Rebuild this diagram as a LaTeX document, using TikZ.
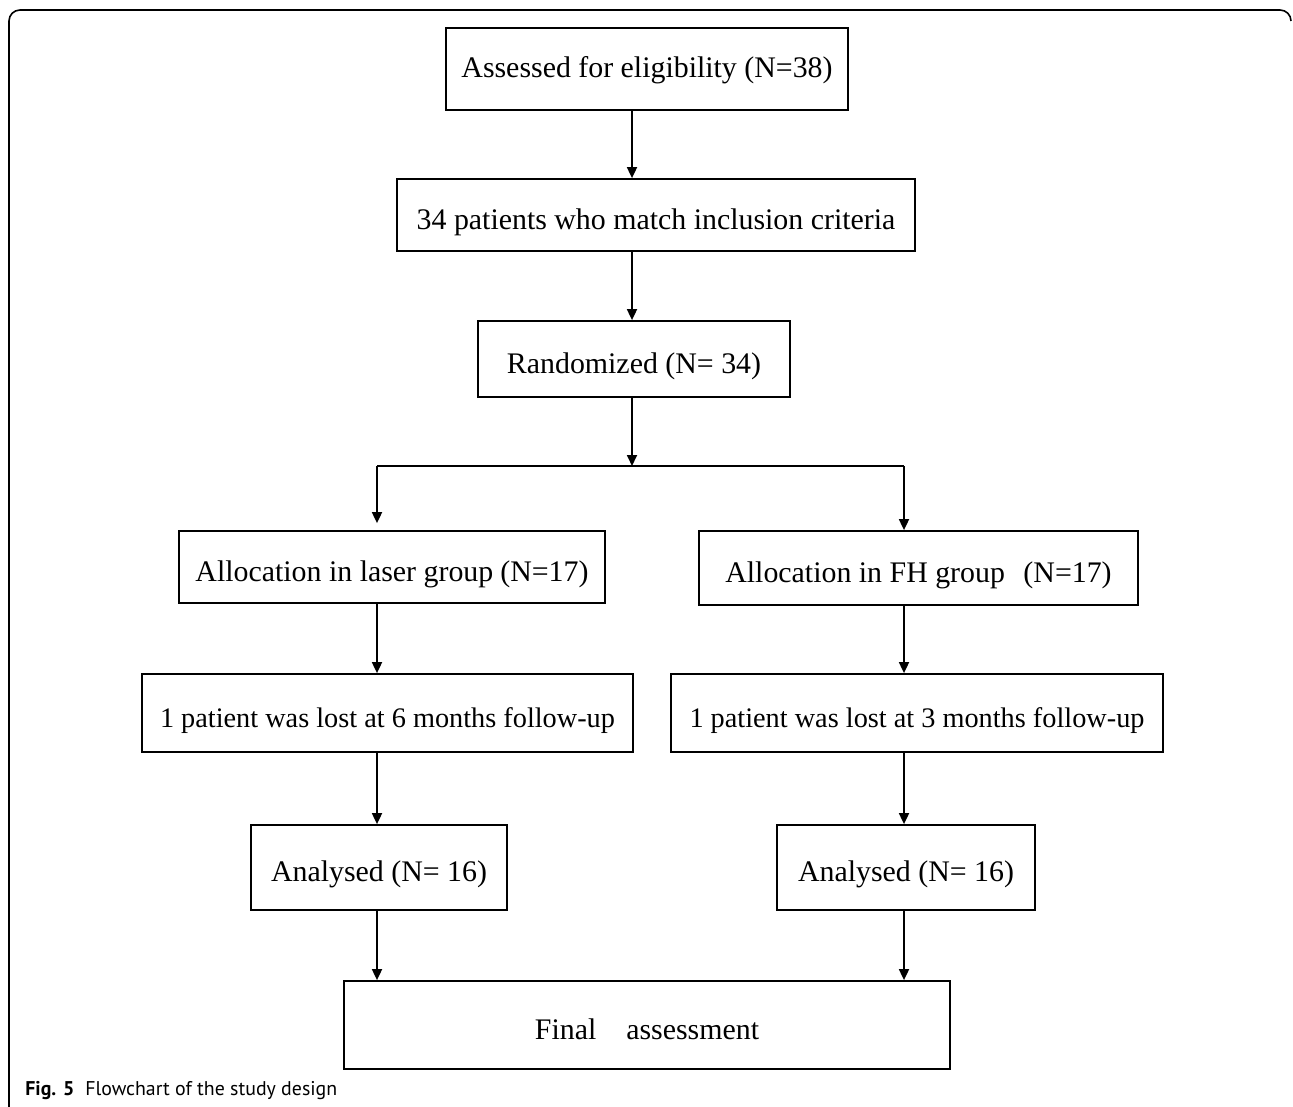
\documentclass[tikz,border=0pt]{standalone}
\usepackage{fontspec}
\setmainfont{Liberation Serif}
\newfontfamily\capfont{PT Sans}
\usepackage{tikz}
\usetikzlibrary{arrows.meta}
\tikzset{
  box/.style={
    rectangle, draw=black, line width=1pt, fill=white,
    align=center, inner sep=0pt, text height=0.66cm, text depth=0.1cm,
    font=\fontsize{17}{20}\selectfont
  },
  arrow/.style={-{Triangle[length=0.22cm,width=0.2cm]}, line width=1pt},
  link/.style={line width=1pt},
  frame/.style={line width=0.9pt},
  caption/.style={inner sep=0pt, font=\capfont\fontsize{11.3}{13}\selectfont}
}
\begin{document}
\begin{tikzpicture}
    \useasboundingbox (0,0) rectangle (25.86,-22.14);
    % Rahmen der Abbildung
    \draw[frame] (0.18,-22.14) -- (0.18,-0.42)
      arc[start angle=180, end angle=90, radius=0.22] -- (25.6,-0.2)
      arc[start angle=90, end angle=0, radius=0.22];

    % Spalten fuer die Pfeile
    \coordinate (cC) at (12.64,0);
    \coordinate (cL) at (7.54,0);
    \coordinate (cR) at (18.08,0);

    % Mittlere Spalte
    \node[box, text height=0.42cm, minimum width=8.04cm, minimum height=1.64cm] (b1) at (12.94,-1.38)
      {Assessed for eligibility (N=38)};
    \node[box, minimum width=10.36cm, minimum height=1.44cm] (b2) at (13.12,-4.30)
      {34 patients who match inclusion criteria};
    \node[box, minimum width=6.24cm, minimum height=1.52cm] (b3) at (12.68,-7.18)
      {Randomized (N= 34)};
    \coordinate (split) at (12.64,-9.32);

    % Laser-Gruppe
    \node[box, minimum width=8.52cm, minimum height=1.44cm] (l1) at (7.84,-11.34)
      {Allocation in laser group\hspace{0.14cm}(N=17)};
    \node[box, font=\fontsize{16.1}{19}\selectfont, minimum width=9.82cm, minimum height=1.56cm] (l2) at (7.75,-14.26)
      {1 patient was lost at 6 months follow-up};
    \node[box, minimum width=5.12cm, minimum height=1.70cm] (l3) at (7.58,-17.35)
      {Analysed (N= 16)};

    % FH-Gruppe
    \node[box, minimum width=8.78cm, minimum height=1.48cm] (r1) at (18.37,-11.36)
      {Allocation in FH group\hspace{0.37cm}(N=17)};
    \node[box, font=\fontsize{16.1}{19}\selectfont, minimum width=9.84cm, minimum height=1.56cm] (r2) at (18.34,-14.26)
      {1 patient was lost at 3 months follow-up};
    \node[box, minimum width=5.16cm, minimum height=1.70cm] (r3) at (18.12,-17.35)
      {Analysed (N= 16)};

    \node[box, minimum width=12.12cm, minimum height=1.76cm] (fin) at (12.94,-20.50)
      {Final\hspace{0.6cm}assessment};

    % Pfeile Mitte
    \foreach \a/\b in {b1/b2, b2/b3}{%
      \draw[arrow] (\a.south -| cC) -- (\b.north -| cC);}
    \draw[arrow] (b3.south -| cC) -- (split);
    \draw[link] (split -| cL) -- (split -| cR);
    \draw[arrow] (split -| cL) -- ([yshift=0.14cm]l1.north -| cL);
    \draw[arrow] (split -| cR) -- (r1.north -| cR);

    % Pfeile links und rechts
    \foreach \a/\b in {l1/l2, l2/l3, l3/fin}{%
      \draw[arrow] (\a.south -| cL) -- (\b.north -| cL);}
    \foreach \a/\b in {r1/r2, r2/r3, r3/fin}{%
      \draw[arrow] (\a.south -| cR) -- (\b.north -| cR);}

    % Bildunterschrift
    \node[caption, anchor=base west] (cap) at (0.5,-21.9)
      {\textbf{Fig. 5}\hspace{0.22cm}Flowchart of the study design};
\end{tikzpicture}
\end{document}
